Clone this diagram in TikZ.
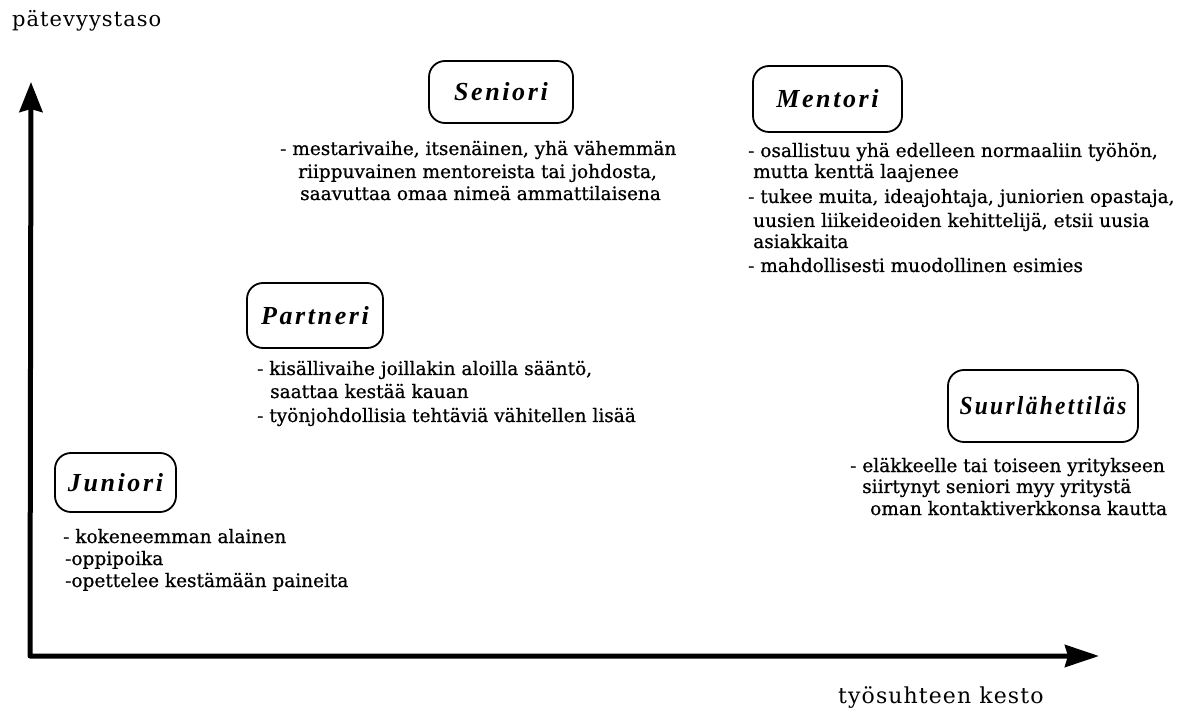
\documentclass[tikz,border=0pt]{standalone}
\usepackage{fontspec}
\usepackage{graphicx}
\setmainfont{DejaVu Serif}
\newfontfamily\bodyfont{DejaVu Serif}[FakeBold=0.7]
\newfontfamily\labfont{Liberation Serif}[LetterSpace=10]
\newfontfamily\axfont{DejaVu Serif}[LetterSpace=5]
\newfontfamily\axxfont{DejaVu Serif}[LetterSpace=5]
\usetikzlibrary{arrows.meta}
\begin{document}
\begin{tikzpicture}[x=1pt,y=-1pt,
  stage/.style={draw, line width=1.8pt, rounded corners=16pt, inner sep=0pt,
    font=\fontsize{26}{30}\selectfont\labfont\bfseries\itshape},
  txt/.style={anchor=base west, inner sep=0pt, font=\fontsize{18.5}{22}\selectfont\bodyfont},
  axis/.style={line width=5pt, line join=round},
  axlabel/.style={anchor=base west, inner sep=0pt}
]
\useasboundingbox (0,0) rectangle (1179,711);

% axes
\coordinate (O) at (30,656);
\coordinate (Y) at (31,82);
\coordinate (X) at (1099,656);
\draw[axis, {Stealth[length=30pt,width=23pt,inset=3pt]}-{Stealth[length=34pt,width=22pt,inset=3pt]}] (Y) -- (O) -- (X);

\node[axlabel, font=\fontsize{21}{24}\selectfont\axfont] (ylab) at (12,27) {pätevyystaso};
\node[axlabel, font=\fontsize{22}{26}\selectfont\axxfont] (xlab) at (838,703) {työsuhteen kesto};

% stage boxes
\node[stage, minimum width=144pt, minimum height=62pt] (sen) at (501,92) {Seniori};
\node[stage, minimum width=149pt, minimum height=66pt] (men) at (827.5,99) {Mentori};
\node[stage, minimum width=136pt, minimum height=65pt] (par) at (315,315.5) {Partneri};
\node[stage, minimum width=190pt, minimum height=72pt] (suu) at (1043,406) {\scalebox{0.9}[1]{Suurlähettiläs}};
\node[stage, minimum width=121pt, minimum height=59pt] (jun) at (115.5,482.5) {Juniori};

% Seniori text
\node[txt] (sen1) at (280,155) {- mestarivaihe, itsenäinen, yhä vähemmän};
\node[txt] (sen2) at (298,178) {riippuvainen mentoreista tai johdosta,};
\node[txt] (sen3) at (300,200) {saavuttaa omaa nimeä ammattilaisena};

% Mentori text
\node[txt] (men1) at (748,157) {- osallistuu yhä edelleen normaaliin työhön,};
\node[txt] (men2) at (753,178) {mutta kenttä laajenee};
\node[txt] (men3) at (748,203) {- tukee muita, ideajohtaja, juniorien opastaja,};
\node[txt] (men4) at (753,227) {uusien liikeideoiden kehittelijä, etsii uusia};
\node[txt] (men5) at (753,248) {asiakkaita};
\node[txt] (men6) at (748,272) {- mahdollisesti muodollinen esimies};

% Partneri text
\node[txt] (par1) at (257,375) {- kisällivaihe joillakin aloilla sääntö,};
\node[txt] (par2) at (270,398) {saattaa kestää kauan};
\node[txt] (par3) at (257,422) {- työnjohdollisia tehtäviä vähitellen lisää};

% Suurlahettilas text
\node[txt] (suu1) at (850,472) {- eläkkeelle tai toiseen yritykseen};
\node[txt] (suu2) at (862,493) {siirtynyt seniori myy yritystä};
\node[txt] (suu3) at (870,515) {oman kontaktiverkkonsa kautta};

% Juniori text
\node[txt] (jun1) at (63,543) {- kokeneemman alainen};
\node[txt] (jun2) at (65,565) {-oppipoika};
\node[txt] (jun3) at (65,587) {-opettelee kestämään paineita};
\end{tikzpicture}
\end{document}
